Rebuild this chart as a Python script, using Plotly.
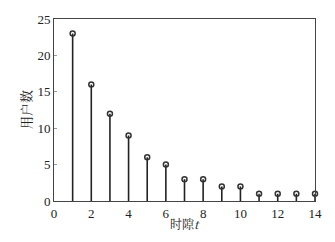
import plotly.graph_objects as go

slots = list(range(1, 15))
users = [23, 16, 12, 9, 6, 5, 3, 3, 2, 2, 1, 1, 1, 1]
x_ticks = [0, 2, 4, 6, 8, 10, 12, 14]
y_ticks = [0, 5, 10, 15, 20, 25]
x_title = "时隙<i>t</i>"
y_title = "用户数"

serif = "Liberation Serif"
cjk = "Noto Serif CJK SC, Noto Sans CJK SC"
ink = "#222222"

fig = go.Figure()
fig.add_trace(go.Scatter(
    x=slots, y=users, mode="markers",
    marker=dict(symbol="circle-open", size=5, color="#333333", line=dict(width=1.5, color="#333333")),
    error_y=dict(type="data", symmetric=False, array=[0]*len(users), arrayminus=users,
                 width=0, thickness=1.6, color=ink),
    showlegend=False,
    cliponaxis=False,
    hoverinfo="skip",
))

fig.update_layout(
    width=335, height=242,
    margin=dict(l=54, r=20, t=12, b=41),
    paper_bgcolor="white", plot_bgcolor="white",
    font=dict(family=serif, size=13, color=ink),
    xaxis=dict(range=[0, 14], tickvals=x_ticks, ticks="", showgrid=False, zeroline=False,
               showline=True, linecolor="#444444", linewidth=1, mirror=True,
               tickfont=dict(family=serif, size=13, color=ink)),
    yaxis=dict(range=[0, 25], tickvals=y_ticks, ticks="inside", ticklen=3, tickcolor="#999999",
               showgrid=False, zeroline=False,
               showline=True, linecolor="#444444", linewidth=1, mirror=True,
               tickfont=dict(family=serif, size=13, color=ink)),
    annotations=[
        dict(text=x_title, xref="paper", yref="paper", x=0.5, y=0, yshift=-22,
             xanchor="center", yanchor="middle", showarrow=False,
             font=dict(family=cjk, size=12, color=ink)),
        dict(text=y_title, xref="paper", yref="paper", x=0, y=0.5, xshift=-29,
             xanchor="center", yanchor="middle", showarrow=False, textangle=-90,
             font=dict(family=cjk, size=13, color=ink)),
    ],
)

fig.write_html("out.html", post_script="document.body.style.margin='0';",
               config={"displayModeBar": False})
